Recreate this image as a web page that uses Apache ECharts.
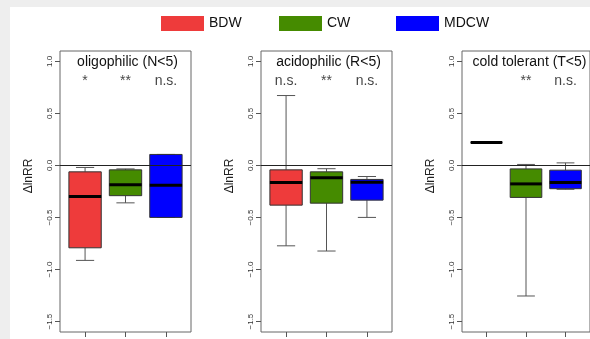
<!DOCTYPE html>
<html>
<head>
<meta charset="utf-8">
<script src="https://cdn.jsdelivr.net/npm/echarts@6/dist/echarts.min.js"></script>
<style>
  html, body { margin: 0; padding: 0; background: #eeeeee; }
  #chart { position: absolute; left: 10px; top: 7px; width: 580px; height: 332px; background: #ffffff; }
</style>
</head>
<body>
<div id="chart"></div>
<script>
// groups and panels
var groupNames = ['BDW', 'CW', 'MDCW'];
var groupColors = ['#EE3B3B', '#458B00', '#0000FF'];
var panelTitles = ['oligophilic (N<5)', 'acidophilic (R<5)', 'cold tolerant (T<5)'];
// box stats per panel: [low whisker, Q1, median, Q3, high whisker]
var bdwStats = [
  [-0.912, -0.791, -0.297, -0.061, -0.019],
  [-0.772, -0.381, -0.163, -0.042, 0.672],
  [0.221, 0.221, 0.221, 0.221, 0.221]
];
var cwStats = [
  [-0.359, -0.290, -0.184, -0.042, -0.033],
  [-0.822, -0.362, -0.119, -0.061, -0.031],
  [-1.254, -0.307, -0.177, -0.033, 0.010]
];
var mdcwStats = [
  [-0.499, -0.499, -0.189, 0.106, 0.106],
  [-0.499, -0.333, -0.160, -0.134, -0.106],
  [-0.229, -0.223, -0.163, -0.045, 0.025]
];
var sigMarks = [
  ['*', '**', 'n.s.'],
  ['n.s.', '**', 'n.s.'],
  ['', '**', 'n.s.']
];
var yTicks = [-1.5, -1.0, -0.5, 0, 0.5, 1.0];
var xTicks = [1, 2, 3];

var allStats = [bdwStats, cwStats, mdcwStats];
var FONT = '"Liberation Sans", Arial, sans-serif';
var panelLeft = 50, panelTop = 44, panelW = 131, panelH = 281, panelStep = 201;
var sigY = 0.81;
var legendLefts = [151, 269, 386];

var chart = echarts.init(document.getElementById('chart'));

function renderBox(params, api) {
  var x = api.value(0);
  var low = api.value(1), q1 = api.value(2), med = api.value(3), q3 = api.value(4), high = api.value(5);
  var hw = 0.4, cw = 0.225;
  var tl = api.coord([x - hw, q3]);
  var br = api.coord([x + hw, q1]);
  var color = api.visual('color');
  function seg(x1, y1, x2, y2, st) {
    var a = api.coord([x1, y1]), b = api.coord([x2, y2]);
    return { type: 'line', shape: { x1: a[0], y1: a[1], x2: b[0], y2: b[1] }, style: st };
  }
  var wst = { stroke: '#555', lineWidth: 1 };
  return {
    type: 'group',
    children: [
      seg(x, q3, x, high, wst),
      seg(x - cw, high, x + cw, high, wst),
      seg(x, q1, x, low, wst),
      seg(x - cw, low, x + cw, low, wst),
      { type: 'rect', shape: { x: tl[0], y: tl[1], width: br[0] - tl[0], height: br[1] - tl[1] },
        style: { fill: color, stroke: '#333', lineWidth: 1 } },
      seg(x - hw, med, x + hw, med, { stroke: '#000', lineWidth: 3 })
    ]
  };
}

var grids = [], xAxes = [], yAxes = [], series = [], graphics = [];
for (var p = 0; p < 3; p++) {
  grids.push({
    left: panelLeft + p * panelStep, top: panelTop, width: panelW, height: panelH,
    show: true, borderColor: '#666', borderWidth: 1, backgroundColor: 'transparent'
  });
  xAxes.push({
    gridIndex: p, type: 'value', min: 0.38, max: 3.62, position: 'bottom',
    axisLine: { show: false, onZero: false }, splitLine: { show: false },
    axisTick: { show: true, length: 5, customValues: xTicks, lineStyle: { color: '#555' } },
    axisLabel: { show: false }
  });
  yAxes.push({
    gridIndex: p, type: 'value', min: -1.6, max: 1.1,
    axisLine: { show: false, onZero: false }, splitLine: { show: false },
    axisTick: { show: true, length: 5, customValues: yTicks, lineStyle: { color: '#555' } },
    axisLabel: {
      customValues: yTicks, rotate: 90, margin: 6, fontSize: 8, color: '#333', fontFamily: FONT,
      formatter: function (v) { return (v < 0 ? '\u2212' : '') + Math.abs(v).toFixed(1); }
    }
  });
  for (var g = 0; g < 3; g++) {
    var s = allStats[g][p];
    var ser = {
      name: groupNames[g], type: 'custom', xAxisIndex: p, yAxisIndex: p,
      itemStyle: { color: groupColors[g] },
      renderItem: renderBox,
      encode: { x: 0, y: [1, 2, 3, 4, 5] },
      data: [[g + 1].concat(s)],
      silent: true
    };
    if (g === 0) {
      ser.markLine = {
        silent: true, symbol: 'none', label: { show: false },
        lineStyle: { color: '#222', width: 1, type: 'solid' },
        data: [{ yAxis: 0 }]
      };
    }
    series.push(ser);
  }
  series.push({
    type: 'scatter', xAxisIndex: p, yAxisIndex: p, symbolSize: 0, silent: true,
    data: sigMarks[p].map(function (t, i) { return [i + 1, sigY, t]; }),
    label: {
      show: true, position: 'inside', fontSize: 14, color: '#111', fontFamily: FONT,
      formatter: function (d) { return d.data[2]; }
    }
  });
  graphics.push({
    type: 'text', x: panelLeft + p * panelStep + panelW / 2 + 2, y: 55,
    style: { text: panelTitles[p], font: '14px ' + FONT, fill: '#111', textAlign: 'center', textVerticalAlign: 'middle' }
  });
  graphics.push({
    type: 'text', x: 19 + p * panelStep, y: 169, rotation: Math.PI / 2,
    style: { text: '\u0394lnRR', font: '12px ' + FONT, fill: '#222', textAlign: 'center', textVerticalAlign: 'middle' }
  });
}

var legends = groupNames.map(function (n, i) {
  return {
    data: [n], left: legendLefts[i], top: 9, padding: 0,
    icon: 'rect', itemWidth: 43, itemHeight: 15,
    textStyle: { fontSize: 14, color: '#111', fontFamily: FONT }
  };
});

chart.setOption({
  animation: false,
  backgroundColor: '#ffffff',
  legend: legends,
  grid: grids,
  xAxis: xAxes,
  yAxis: yAxes,
  series: series,
  graphic: graphics
});
</script>
</body>
</html>
